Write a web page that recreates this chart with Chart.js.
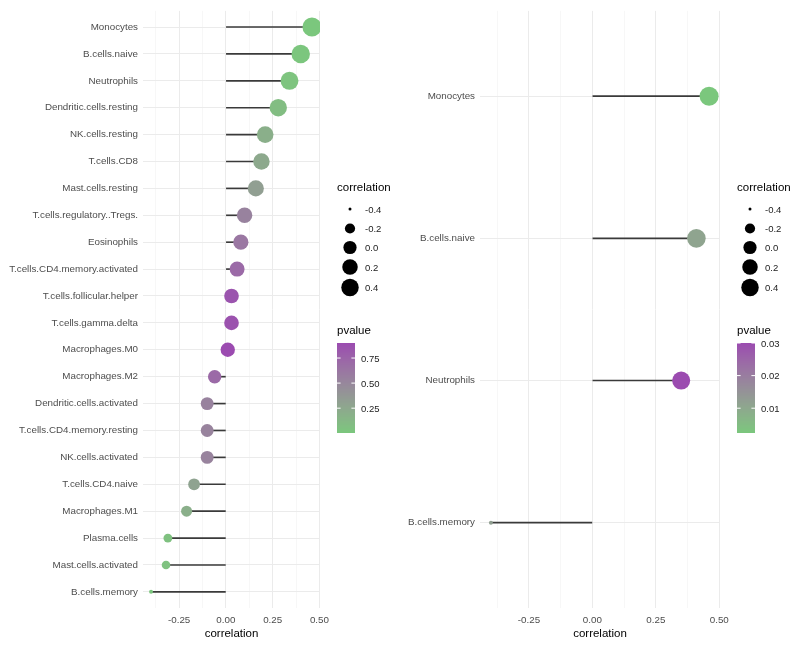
<!DOCTYPE html>
<html>
<head>
<meta charset="utf-8">
<script src="https://cdn.jsdelivr.net/npm/chart.js@4.4.0/dist/chart.umd.min.js"></script>
<style>
body { margin: 0; background: #fff; }
#wrap { display: flex; width: 800px; height: 646px; }
canvas { display: block; }
</style>
</head>
<body>
<div id="wrap">
  <canvas id="allCellsChart" width="400" height="646"></canvas>
  <canvas id="sigCellsChart" width="400" height="646"></canvas>
</div>
<script>
// data, top to bottom as in the plot
var allCells = ['Monocytes', 'B.cells.naive', 'Neutrophils', 'Dendritic.cells.resting', 'NK.cells.resting',
    'T.cells.CD8', 'Mast.cells.resting', 'T.cells.regulatory..Tregs.', 'Eosinophils', 'T.cells.CD4.memory.activated',
    'T.cells.follicular.helper', 'T.cells.gamma.delta', 'Macrophages.M0', 'Macrophages.M2', 'Dendritic.cells.activated',
    'T.cells.CD4.memory.resting', 'NK.cells.activated', 'T.cells.CD4.naive', 'Macrophages.M1', 'Plasma.cells',
    'Mast.cells.activated', 'B.cells.memory'];
var allCorr = [0.46, 0.40, 0.34, 0.28, 0.21, 0.19, 0.16, 0.10, 0.08, 0.06, 0.03, 0.03, 0.01,
    -0.06, -0.10, -0.10, -0.10, -0.17, -0.21, -0.31, -0.32, -0.40];
var allPval = [0.0024, 0.011, 0.030, 0.08, 0.19, 0.24, 0.32, 0.54, 0.62, 0.71, 0.85, 0.86, 0.90,
    0.71, 0.54, 0.53, 0.53, 0.29, 0.19, 0.05, 0.045, 0.012];

var sigCells = ['Monocytes', 'B.cells.naive', 'Neutrophils', 'B.cells.memory'];
var sigCorr = [0.46, 0.41, 0.35, -0.40];
var sigPval = [0.0024, 0.011, 0.030, 0.012];

var xTicks = [-0.375, -0.25, -0.125, 0, 0.125, 0.25, 0.375, 0.5];
var sizeBreaks = [-0.4, -0.2, 0, 0.2, 0.4];
var allPBreaks = [0.25, 0.5, 0.75];
var sigPBreaks = [0.01, 0.02, 0.03];

var LOW_COL = '#7bc77d';
var HIGH_COL = '#9b4bb0';
var FONT = '"Liberation Sans", Arial, sans-serif';

// colour gradient in Lab space (like ggplot's scale_colour_gradient)
function toLab(hex) {
    var c = [1, 3, 5].map(function (i) {
        var v = parseInt(hex.substr(i, 2), 16) / 255;
        return v <= 0.04045 ? v / 12.92 : Math.pow((v + 0.055) / 1.055, 2.4);
    });
    var X = (0.4124 * c[0] + 0.3576 * c[1] + 0.1805 * c[2]) / 0.95047;
    var Y = 0.2126 * c[0] + 0.7152 * c[1] + 0.0722 * c[2];
    var Z = (0.0193 * c[0] + 0.1192 * c[1] + 0.9505 * c[2]) / 1.08883;
    var f = function (t) { return t > 0.008856 ? Math.cbrt(t) : 7.787 * t + 16 / 116; };
    return [116 * f(Y) - 16, 500 * (f(X) - f(Y)), 200 * (f(Y) - f(Z))];
}
function fromLab(lab) {
    var fy = (lab[0] + 16) / 116, fx = fy + lab[1] / 500, fz = fy - lab[2] / 200;
    var inv = function (t) { return t * t * t > 0.008856 ? t * t * t : (t - 16 / 116) / 7.787; };
    var X = inv(fx) * 0.95047, Y = inv(fy), Z = inv(fz) * 1.08883;
    var rgb = [
        3.2406 * X - 1.5372 * Y - 0.4986 * Z,
        -0.9689 * X + 1.8758 * Y + 0.0415 * Z,
        0.0557 * X - 0.2040 * Y + 1.0570 * Z
    ].map(function (v) {
        v = v <= 0.0031308 ? 12.92 * v : 1.055 * Math.pow(v, 1 / 2.4) - 0.055;
        return Math.round(Math.max(0, Math.min(1, v)) * 255);
    });
    return 'rgb(' + rgb.join(',') + ')';
}
var labLow = toLab(LOW_COL), labHigh = toLab(HIGH_COL);
function colorFor(p, lo, hi) {
    var t = (p - lo) / (hi - lo);
    return fromLab([0, 1, 2].map(function (k) { return labLow[k] + t * (labHigh[k] - labLow[k]); }));
}

// point diameter, area scaled like scale_size
function diamFor(v, lo, hi) {
    var t = Math.max(0, (v - lo) / (hi - lo));
    return 3.0 * (1 + 5 * Math.sqrt(t)) + 1.0;
}

function isMajor(v) {
    return Math.abs(v * 4 - Math.round(v * 4)) < 1e-6;
}

// draws the size legend and the pvalue colour bar to the right of the panel
const sideLegend = {
    id: 'sideLegend',
    afterDraw(chart, args, opts) {
        const ctx = chart.ctx;
        ctx.save();
        ctx.textBaseline = 'middle';
        ctx.textAlign = 'left';
        ctx.fillStyle = '#000';
        ctx.font = '11.5px ' + FONT;
        ctx.fillText('correlation', 337, 188);
        const keyY = [209, 228.5, 247.5, 267, 287.5];
        sizeBreaks.forEach(function (v, i) {
            ctx.beginPath();
            ctx.arc(350, keyY[i], (diamFor(v, opts.cLo, opts.cHi) - 1) / 2, 0, Math.PI * 2);
            ctx.fillStyle = '#000';
            ctx.fill();
            ctx.font = '9.5px ' + FONT;
            ctx.fillStyle = '#222';
            ctx.fillText(v.toFixed(1), 365, keyY[i] + 1);
        });

        ctx.fillStyle = '#000';
        ctx.font = '11.5px ' + FONT;
        ctx.fillText('pvalue', 337, 331);
        const top = 343, bottom = 433, left = 337, w = 18;
        for (let y = top; y < bottom; y++) {
            const p = opts.pHi - (y + 0.5 - top) / (bottom - top) * (opts.pHi - opts.pLo);
            ctx.fillStyle = colorFor(p, opts.pLo, opts.pHi);
            ctx.fillRect(left, y, w, 1);
        }
        ctx.font = '9.5px ' + FONT;
        opts.breaks.forEach(function (b) {
            const y = bottom - (b - opts.pLo) / (opts.pHi - opts.pLo) * (bottom - top);
            ctx.strokeStyle = '#fff';
            ctx.lineWidth = 1;
            ctx.beginPath();
            ctx.moveTo(left, y); ctx.lineTo(left + 3.6, y);
            ctx.moveTo(left + w - 3.6, y); ctx.lineTo(left + w, y);
            ctx.stroke();
            ctx.fillStyle = '#222';
            ctx.fillText(b.toFixed(2), 361, y + 1);
        });
        ctx.restore();
    }
};

function makeLollipop(canvasId, cells, corr, pval, pBreaks, axisWidth) {
    const cLo = Math.min.apply(null, corr), cHi = Math.max.apply(null, corr);
    const pLo = Math.min.apply(null, pval), pHi = Math.max.apply(null, pval);
    const pad = (cHi - cLo) * 0.05;
    const n = cells.length;

    return new Chart(document.getElementById(canvasId), {
        type: 'bar',
        data: {
            datasets: [{
                type: 'scatter',
                order: 1,
                data: corr.map(function (v, i) { return { x: v, y: i + 1 }; }),
                pointRadius: (c) => diamFor(corr[c.dataIndex], cLo, cHi) / 2,
                pointHoverRadius: (c) => diamFor(corr[c.dataIndex], cLo, cHi) / 2,
                pointBackgroundColor: (c) => colorFor(pval[c.dataIndex], pLo, pHi),
                pointBorderWidth: 0,
            }, {
                type: 'bar',
                order: 2,
                data: corr.map(function (v, i) { return { x: v, y: i + 1 }; }),
                backgroundColor: '#3a3a3a',
                barThickness: 1,
            }]
        },
        options: {
            indexAxis: 'y',
            responsive: false,
            animation: false,
            events: [],
            layout: { padding: { top: 8, right: 80, left: 0, bottom: 0 } },
            plugins: {
                legend: { display: false },
                tooltip: { enabled: false },
                sideLegend: { cLo: cLo, cHi: cHi, pLo: pLo, pHi: pHi, breaks: pBreaks }
            },
            scales: {
                x: {
                    type: 'linear',
                    min: cLo - pad,
                    max: cHi + pad,
                    afterBuildTicks: (scale) => {
                        scale.ticks = xTicks.map(function (v) { return { value: v }; });
                    },
                    afterFit: (scale) => { scale.height = 38; },
                    border: { display: false },
                    grid: {
                        drawTicks: false,
                        color: (c) => isMajor(c.tick.value) ? '#ebebeb' : '#f3f3f3',
                        lineWidth: (c) => isMajor(c.tick.value) ? 1 : 0.7,
                    },
                    ticks: {
                        autoSkip: false,
                        maxRotation: 0,
                        padding: 6,
                        color: '#4d4d4d',
                        font: { family: FONT, size: 9.8 },
                        callback: (v) => isMajor(v) ? v.toFixed(2) : ''
                    },
                    title: {
                        display: true,
                        text: 'correlation',
                        color: '#000',
                        font: { family: FONT, size: 11.5 },
                        padding: { top: 0, bottom: 5 }
                    }
                },
                y: {
                    type: 'linear',
                    reverse: true,
                    offset: false,
                    min: 0.4,
                    max: n + 0.6,
                    afterBuildTicks: (scale) => {
                        scale.ticks = cells.map(function (c, i) { return { value: i + 1 }; });
                    },
                    afterFit: (scale) => { scale.width = axisWidth; },
                    border: { display: false },
                    grid: { offset: false, drawTicks: false, color: '#ebebeb', lineWidth: 1 },
                    ticks: {
                        autoSkip: false,
                        padding: 5,
                        color: '#4d4d4d',
                        font: { family: FONT, size: 9.8 },
                        callback: (v) => cells[Math.round(v) - 1]
                    }
                }
            }
        },
        plugins: [sideLegend]
    });
}

const allChart = makeLollipop('allCellsChart', allCells, allCorr, allPval, allPBreaks, 143);
const sigChart = makeLollipop('sigCellsChart', sigCells, sigCorr, sigPval, sigPBreaks, 80);
</script>
</body>
</html>
